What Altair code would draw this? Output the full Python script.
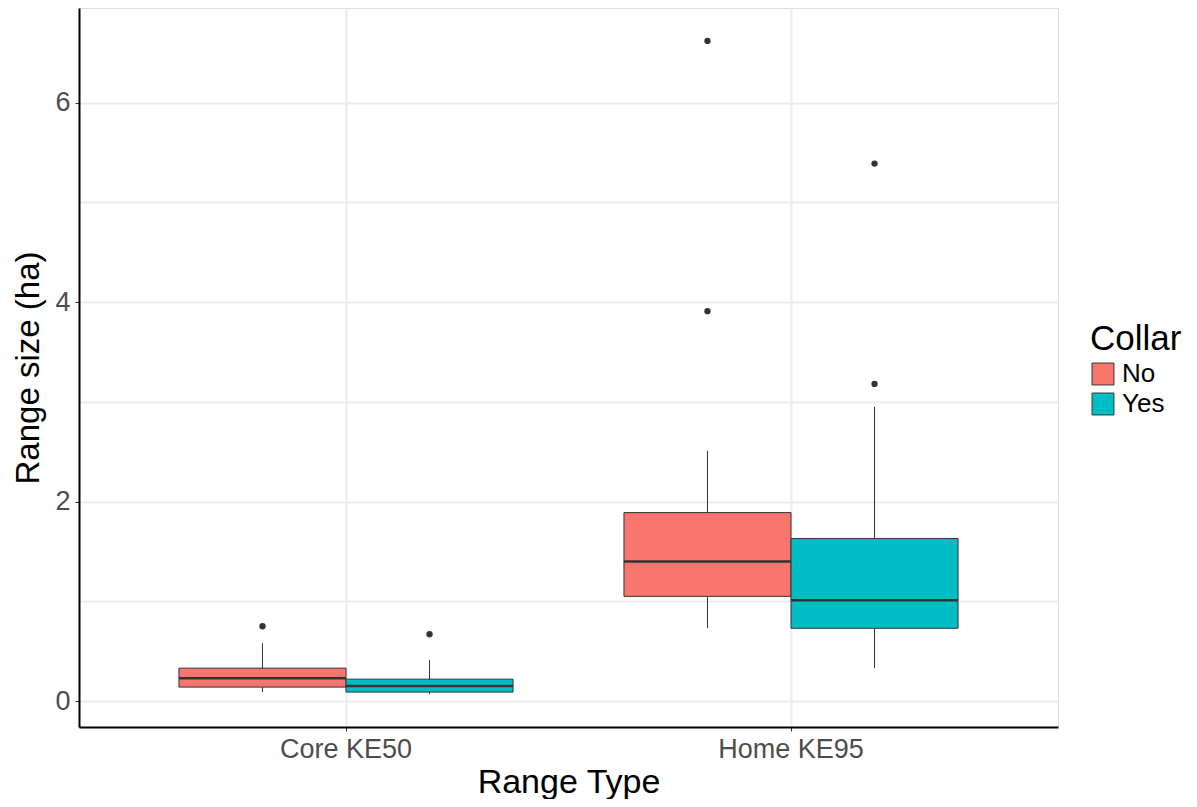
import altair as alt
import pandas as pd

# ---- data ----
range_types = ["Core KE50", "Core KE50", "Home KE95", "Home KE95"]
collars = ["No", "Yes", "No", "Yes"]
whisker_lo = [0.09, 0.07, 0.73, 0.33]
q1 = [0.14, 0.09, 1.05, 0.73]
median = [0.23, 0.15, 1.40, 1.01]
q3 = [0.33, 0.22, 1.89, 1.63]
whisker_hi = [0.58, 0.41, 2.51, 2.95]

out_range = ["Core KE50", "Core KE50", "Home KE95", "Home KE95", "Home KE95", "Home KE95"]
out_collar = ["No", "Yes", "No", "No", "Yes", "Yes"]
out_value = [0.75, 0.67, 3.91, 6.62, 3.18, 5.39]

collar_levels = ["No", "Yes"]
collar_colors = ["#F8766D", "#00BFC4"]
y_ticks = [0, 1, 2, 3, 4, 5, 6]

summary = pd.DataFrame({
    "range_type": range_types, "collar": collars, "lo": whisker_lo,
    "q1": q1, "med": median, "q3": q3, "hi": whisker_hi,
})
outliers = pd.DataFrame({"range_type": out_range, "collar": out_collar, "value": out_value})

FONT = "Liberation Sans"

x_enc = alt.X(
    "range_type:N",
    title="Range Type",
    scale=alt.Scale(paddingInner=0, paddingOuter=0.1),
    axis=alt.Axis(
        labelAngle=0, grid=True, gridColor="#EBEBEB", gridWidth=2,
        labelFontSize=27, labelColor="#4D4D4D", labelFont=FONT, labelPadding=5,
        titleFontSize=34, titleFont=FONT, titleColor="black", titleFontWeight="normal",
        titlePadding=3, tickColor="#333333", tickSize=4, domainColor="black", domainWidth=2,
    ),
)
xo_enc = alt.XOffset("collar:N", sort=collar_levels,
                     scale=alt.Scale(paddingInner=0, paddingOuter=0.332))
y_scale = alt.Scale(domain=[-0.26, 6.95], nice=False, zero=False)
y_axis = alt.Axis(
    values=y_ticks, format="d",
    labelExpr="datum.value % 2 ? '' : datum.label",
    tickOpacity={"condition": {"test": "datum.value % 2 == 1", "value": 0}, "value": 1},
    grid=True, gridColor="#EBEBEB", gridWidth=2,
    labelFontSize=27, labelColor="#4D4D4D", labelFont=FONT, labelPadding=5,
    titleFontSize=33, titleFont=FONT, titleColor="black", titleFontWeight="normal",
    titlePadding=9, tickColor="#333333", tickSize=4, domainColor="black", domainWidth=2,
)

base = alt.Chart(summary)

whiskers = base.mark_rule(color="#333333", strokeWidth=1).encode(
    x=x_enc, xOffset=xo_enc,
    y=alt.Y("lo:Q", scale=y_scale, axis=y_axis, title="Range size (ha)"),
    y2="hi:Q",
)
boxes = base.mark_bar(stroke="#333333", strokeWidth=1, opacity=1).encode(
    x=x_enc, xOffset=xo_enc,
    y=alt.Y("q1:Q", scale=y_scale),
    y2="q3:Q",
    fill=alt.Fill(
        "collar:N",
        scale=alt.Scale(domain=collar_levels, range=collar_colors),
        legend=alt.Legend(
            title="Collar", orient="none", legendX=1011, legendY=314,
            titleFontSize=35, titleFont=FONT, titleFontWeight="normal", titleColor="black",
            labelFontSize=26, labelFont=FONT, labelColor="black", labelOffset=6,
            symbolType="square", symbolSize=480, symbolStrokeColor="#333333",
            symbolStrokeWidth=1, symbolOpacity=1, rowPadding=4, titlePadding=4,
        ),
    ),
)
medians = base.mark_tick(color="#333333", thickness=2.5, size=167, opacity=1).encode(
    x=x_enc, xOffset=xo_enc,
    y=alt.Y("med:Q", scale=y_scale),
)
points = alt.Chart(outliers).mark_circle(color="#333333", size=40, opacity=1).encode(
    x=x_enc, xOffset=xo_enc,
    y=alt.Y("value:Q", scale=y_scale),
)

chart = alt.layer(whiskers, boxes, medians, points).properties(
    width=979, height=719,
    autosize=alt.AutoSizeParams(type="none"),
    padding={"left": 71, "top": 0, "right": 130, "bottom": 72},
).configure_view(stroke="#555555", strokeWidth=1.5).configure(background="white")

chart.save("out.html", embed_options={"renderer": "svg", "actions": False})
